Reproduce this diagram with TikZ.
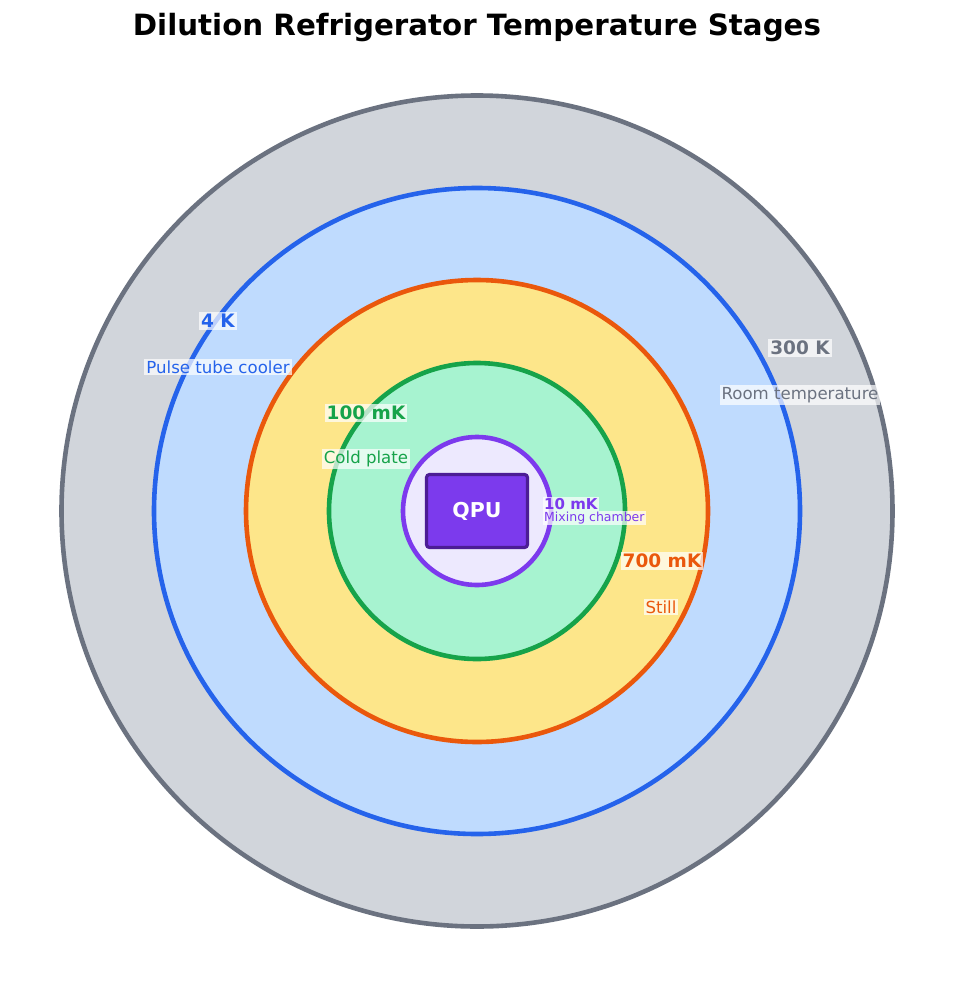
\documentclass[tikz,border=0pt]{standalone}
\usepackage{fontspec}
\setmainfont{DejaVu Sans}
\definecolor{g300}{HTML}{D1D5DB}
\definecolor{g500}{HTML}{6B7280}
\definecolor{b200}{HTML}{BFDBFE}
\definecolor{b600}{HTML}{2563EB}
\definecolor{a200}{HTML}{FDE68A}
\definecolor{o600}{HTML}{EA580C}
\definecolor{e200}{HTML}{A7F3D0}
\definecolor{gr600}{HTML}{16A34A}
\definecolor{v100}{HTML}{EDE9FE}
\definecolor{v600}{HTML}{7C3AED}
\definecolor{v900}{HTML}{4C1D95}
\tikzset{
  stage/.style={circle, draw=#1, line width=4.6pt, inner sep=0pt},
  lbl/.style={fill=white, fill opacity=0.7, text opacity=1, inner sep=2pt, text=#1},
  tempbig/.style={lbl=#1, font=\fontsize{18.5}{20}\selectfont\bfseries},
  namesm/.style={lbl=#1, font=\fontsize{16.6}{18}\selectfont},
}
\begin{document}
\begin{tikzpicture}[x=1pt,y=-1pt]
\useasboundingbox (0,0) rectangle (954,988);
\fill[white] (0,0) rectangle (954,988);
\node[font=\fontsize{29.3}{32}\selectfont\bfseries] (title) at (477,28) {Dilution Refrigerator Temperature Stages};
\node[stage=g500, fill=g300, minimum size=831pt] (s300) at (477,511) {};
\node[stage=b600, fill=b200, minimum size=646pt] (s4) at (477,511) {};
\node[stage=o600, fill=a200, minimum size=462pt] (s700) at (477,511) {};
\node[stage=gr600, fill=e200, minimum size=296pt] (s100) at (477,511) {};
\node[stage=v600, fill=v100, minimum size=148pt] (s10) at (477,511) {};
\node[draw=v900, fill=v600, line width=3.2pt, rounded corners=3pt, minimum width=101pt, minimum height=73pt, text=white, font=\fontsize{20.5}{22}\selectfont\bfseries] (qpu) at (477,511) {QPU};
\node[tempbig=b600] (t4) at (218,321) {4 K};
\node[namesm=b600] (n4) at (218,367) {Pulse tube cooler};
\node[tempbig=g500] (t300) at (800,348) {300 K};
\node[namesm=g500] (n300) at (800,395) {Room temperature};
\node[tempbig=gr600] (t100) at (366,413) {100 mK};
\node[namesm=gr600] (n100) at (366,459) {Cold plate};
\node[tempbig=o600] (t700) at (662,561) {700 mK};
\node[namesm=o600] (n700) at (661,607) {Still};
\node[lbl=v600, anchor=west, inner sep=1pt, font=\fontsize{15}{16}\selectfont\bfseries] (t10) at (543,504) {10 mK};
\node[lbl=v600, anchor=west, inner sep=1pt, font=\fontsize{12.5}{13}\selectfont] (n10) at (543,518) {Mixing chamber};
\end{tikzpicture}
\end{document}
